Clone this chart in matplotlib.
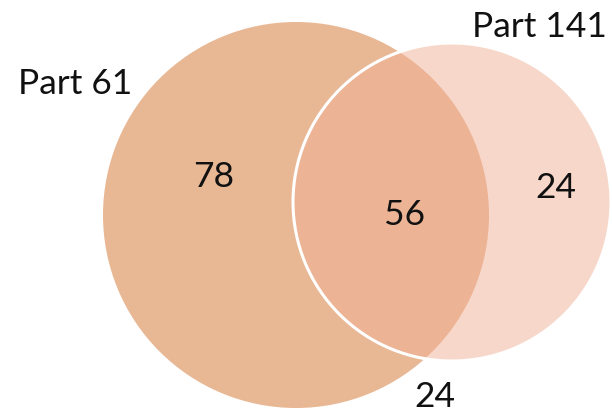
import matplotlib
matplotlib.use("Agg")
import matplotlib.pyplot as plt
from matplotlib.patches import Circle

# Data
set_names = ["Part 61", "Part 141"]
only_61 = 78
both = 56
only_141 = 24
neither = 24

fig = plt.figure(figsize=(6.12, 4.13), dpi=100)
ax = fig.add_axes([0, 0, 1, 1])
ax.set_xlim(0, 612)
ax.set_ylim(413, 0)
ax.set_aspect("equal")
ax.axis("off")

font = dict(family=["Lato", "DejaVu Sans"], color="#111111")
fs = 25.5

c1 = Circle((296, 215), 193, facecolor="#E8B794", edgecolor="none", zorder=1)
c2 = Circle((452, 202), 159, facecolor=(241/255, 177/255, 151/255, 0.5),
            edgecolor="white", linewidth=2.2, zorder=2)
ax.add_patch(c1)
ax.add_patch(c2)

ax.text(75, 84, set_names[0], ha="center", va="center", fontsize=fs, **font)
ax.text(607, 27, set_names[1], ha="right", va="center", fontsize=fs, **font)
ax.text(214, 177, str(only_61), ha="center", va="center", fontsize=fs, zorder=5, **font)
ax.text(405, 215, str(both), ha="center", va="center", fontsize=fs, zorder=5, **font)
ax.text(556, 188, str(only_141), ha="center", va="center", fontsize=fs, zorder=5, **font)
ax.text(435, 397, str(neither), ha="center", va="center", fontsize=fs, zorder=5, **font)

fig.savefig("out.png", dpi=100)
